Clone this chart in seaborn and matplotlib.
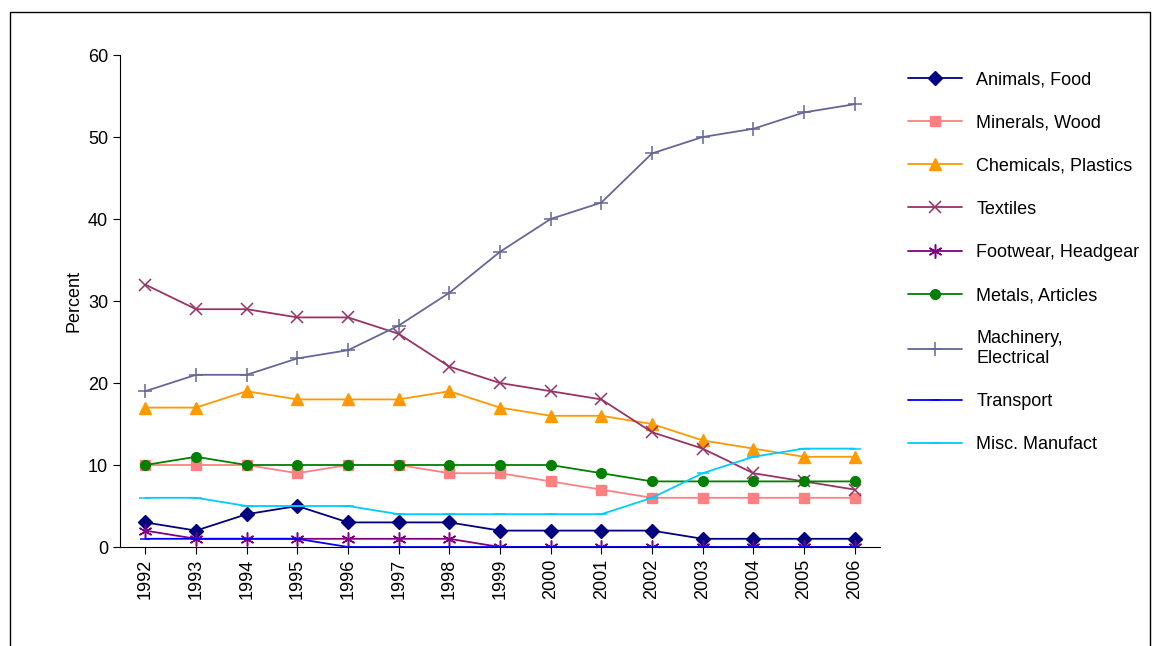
import matplotlib
matplotlib.use("Agg")
import matplotlib.pyplot as plt
import seaborn as sns
import pandas as pd

years = list(range(1992, 2007))
animals = [3,2,4,5,3,3,3,2,2,2,2,1,1,1,1]
minerals = [10,10,10,9,10,10,9,9,8,7,6,6,6,6,6]
chemicals = [17,17,19,18,18,18,19,17,16,16,15,13,12,11,11]
textiles = [32,29,29,28,28,26,22,20,19,18,14,12,9,8,7]
footwear = [2,1,1,1,1,1,1,0,0,0,0,0,0,0,0]
metals = [10,11,10,10,10,10,10,10,10,9,8,8,8,8,8]
machinery = [19,21,21,23,24,27,31,36,40,42,48,50,51,53,54]
transport = [1,1,1,1,0,0,0,0,0,0,0,0,0,0,0]
misc = [6,6,5,5,5,4,4,4,4,4,6,9,11,12,12]

series = [
    ("Animals, Food", animals, "#000080", "D", 7),
    ("Minerals, Wood", minerals, "#FF8080", "s", 7),
    ("Chemicals, Plastics", chemicals, "#FF9900", "^", 8),
    ("Textiles", textiles, "#993366", "x", 8),
    ("Footwear, Headgear", footwear, "#800080", (6, 2, 0), 10),
    ("Metals, Articles", metals, "#008000", "o", 7),
    ("Machinery,\nElectrical", machinery, "#666699", "+", 10),
    ("Transport", transport, "#0000FF", "_", 7),
    ("Misc. Manufact", misc, "#00CCFF", "_", 8),
]

sns.set_style("white")
plt.rcParams["font.family"] = ["Liberation Sans", "DejaVu Sans"]
fig = plt.figure(figsize=(11.52, 6.46), dpi=100)
ax = fig.add_axes([120/1152, 1-547/646, 760/1152, 492/646])
for name, vals, c, m, ms in series:
    df = pd.DataFrame({"year": years, "v": vals})
    thin = m in ("x", "+", "_") or isinstance(m, tuple)
    sns.lineplot(data=df, x="year", y="v", ax=ax, color=c, marker=m, markersize=ms,
                 markeredgecolor=c, markeredgewidth=1.1 if thin else 1,
                 linewidth=1.3, label=name)
ax.set_xlim(1991.5, 2006.5)
ax.set_ylim(0, 60)
ax.set_yticks(range(0, 61, 10))
ax.set_xticks(years)
ax.set_xticklabels([str(y) for y in years], rotation=90, fontsize=13)
ax.tick_params(axis="y", labelsize=13)
ax.tick_params(axis="both", direction="out", length=5, color="black", labelcolor="black",
               left=True, bottom=True)
ax.set_xlabel("")
ax.set_ylabel("Percent", fontsize=13, color="black")
for s in ["top", "right"]:
    ax.spines[s].set_visible(False)
for s in ["left", "bottom"]:
    ax.spines[s].set_color("black")
leg = ax.legend(loc="upper left", bbox_to_anchor=(1.015, 1.0), frameon=False, fontsize=13,
          labelspacing=1.45, handlelength=3)
for t in leg.get_texts():
    t.set_color("black")
fig.patches.append(plt.Rectangle((10/1152, -0.01), 1 - 12/1152, 1 - 12/646 + 0.01,
                                 transform=fig.transFigure, fill=False, edgecolor="black", lw=1))
fig.savefig("out.png", dpi=100)
